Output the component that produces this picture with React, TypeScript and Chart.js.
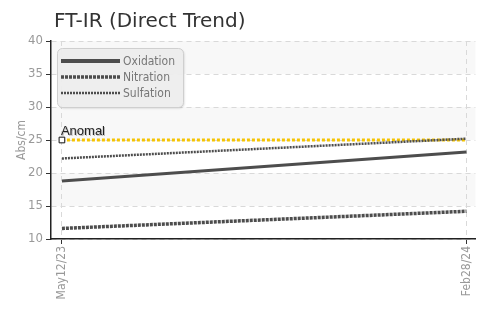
import React, { useEffect, useRef } from "react";
import { Chart, registerables } from "chart.js";
Chart.register(...registerables);

const titleText = "FT-IR (Direct Trend)";
const yTitle = "Abs/cm";
const dates = ["May12/23", "Feb28/24"];
const seriesNames = ["Oxidation", "Nitration", "Sulfation"];
const oxidation = [18.8, 23.2];
const nitration = [11.6, 14.2];
const sulfation = [22.2, 25.2];
const anomal = [25, 25];
const anomalLabel = "Anomal";
const yTicks = [10, 15, 20, 25, 30, 35, 40];

const NARROW = '"Liberation Sans Narrow", "DejaVu Sans Condensed", "Roboto", sans-serif';
const LINE = "#4d4d4d";

const styles = [
  { width: 3, dash: [] as number[] },
  { width: 3.5, dash: [3, 1] },
  { width: 2.5, dash: [2, 1] },
];

const decor = {
  id: "decor",
  beforeDraw(chart: any) {
    const { ctx, chartArea: a, scales } = chart;
    const y = scales.y;
    ctx.save();
    ctx.fillStyle = "#f8f8f8";
    for (let i = 0; i < yTicks.length - 1; i++) {
      if (i % 2 === 1) {
        const t = y.getPixelForValue(yTicks[i + 1]);
        const b = y.getPixelForValue(yTicks[i]);
        ctx.fillRect(a.left, t, a.right - a.left, b - t);
      }
    }
    ctx.fillStyle = "#333";
    ctx.font = '20px "DejaVu Sans", sans-serif';
    ctx.textBaseline = "alphabetic";
    ctx.textAlign = "left";
    ctx.fillText(titleText, 54, 27);
    ctx.restore();
  },
  afterDatasetsDraw(chart: any) {
    const { ctx, scales } = chart;
    const x = scales.x;
    const y = scales.y;
    ctx.save();
    // Anomal label
    ctx.font = '13px "Liberation Sans", Arial, sans-serif';
    ctx.fillStyle = "#222";
    ctx.textAlign = "left";
    ctx.textBaseline = "alphabetic";
    ctx.shadowColor = "rgba(0,0,0,0.25)";
    ctx.shadowOffsetX = 1;
    ctx.shadowOffsetY = 1;
    ctx.fillText(anomalLabel, x.getPixelForValue(0) - 1, y.getPixelForValue(anomal[0]) - 5);
    ctx.shadowColor = "transparent";
    // legend box
    ctx.beginPath();
    ctx.roundRect(57.5, 48.5, 126, 59, 5);
    ctx.shadowColor = "rgba(0,0,0,0.15)";
    ctx.shadowOffsetX = 1;
    ctx.shadowOffsetY = 1;
    ctx.shadowBlur = 2;
    ctx.fillStyle = "rgba(238,238,238,0.95)";
    ctx.fill();
    ctx.shadowColor = "transparent";
    ctx.strokeStyle = "#cfcfcf";
    ctx.lineWidth = 1;
    ctx.stroke();
    const rows = [61, 77, 93];
    seriesNames.forEach((name, i) => {
      ctx.beginPath();
      ctx.setLineDash(styles[i].dash);
      ctx.lineWidth = styles[i].width + (i === 0 ? 1 : 0);
      ctx.strokeStyle = LINE;
      ctx.moveTo(61, rows[i]);
      ctx.lineTo(120, rows[i]);
      ctx.stroke();
      ctx.setLineDash([]);
      ctx.font = "12px " + NARROW;
      ctx.fillStyle = "#777";
      ctx.textBaseline = "middle";
      ctx.fillText(name, 123, rows[i] + 1);
    });
    ctx.restore();
  },
};

export default function App() {
  const ref = useRef<HTMLCanvasElement>(null);
  useEffect(() => {
    document.body.style.margin = "0";
    const toPts = (arr: number[]) => arr.map((v, i) => ({ x: i, y: v }));
    const chart = new Chart(ref.current!, {
      type: "line",
      data: {
        datasets: [
          {
            label: "Anomal",
            data: toPts(anomal),
            borderColor: "#f5c400",
            borderWidth: 3,
            borderDash: [3, 2],
            pointStyle: "rect",
            pointRadius: [4, 0],
            pointBackgroundColor: "#fff",
            pointBorderColor: "#111",
            pointBorderWidth: 1,
            order: 5,
          },
          ...[oxidation, nitration, sulfation].map((arr, i) => ({
            label: seriesNames[i],
            data: toPts(arr),
            borderColor: LINE,
            borderWidth: styles[i].width,
            borderDash: styles[i].dash,
            pointRadius: 0,
            order: i + 1,
          })),
        ],
      },
      options: {
        animation: false,
        responsive: true,
        maintainAspectRatio: false,
        layout: { padding: { top: 41, right: 3, left: 0, bottom: 0 } },
        plugins: { legend: { display: false }, tooltip: { enabled: false }, title: { display: false } },
        scales: {
          x: {
            type: "linear",
            min: -0.027,
            max: 1.022,
            afterBuildTicks: (s: any) => {
              s.ticks = dates.map((_, i) => ({ value: i }));
            },
            afterFit: (s: any) => {
              s.height = 72;
            },
            ticks: {
              callback: (v: any) => dates[v],
              minRotation: 90,
              maxRotation: 90,
              autoSkip: false,
              color: "#999",
              padding: 2,
              font: { family: NARROW, size: 12 },
            },
            grid: {
              color: "#d9d9d9",
              lineWidth: 1,
              tickLength: 5,
              tickColor: "#333",
              tickWidth: 1,
              tickBorderDash: [],
            },
            border: { display: true, color: "#222", width: 1.5, dash: [5, 4] },
          },
          y: {
            min: 10,
            max: 40,
            afterBuildTicks: (s: any) => {
              s.ticks = yTicks.map((v) => ({ value: v }));
            },
            afterFit: (s: any) => {
              s.width = 51;
            },
            ticks: {
              color: "#999",
              padding: 3,
              font: { family: NARROW, size: 13 },
            },
            grid: {
              color: "#d9d9d9",
              lineWidth: 1,
              tickLength: 5,
              tickColor: "#333",
              tickWidth: 1,
              tickBorderDash: [],
            },
            border: { display: true, color: "#222", width: 1.5, dash: [5, 4] },
            title: {
              display: true,
              text: yTitle,
              color: "#999",
              font: { family: NARROW, size: 12 },
              padding: { top: 15, bottom: 0 },
            },
          },
        },
      },
      plugins: [decor],
    });
    return () => chart.destroy();
  }, []);
  return (
    <div style={{ width: 483, height: 311, position: "relative" }}>
      <canvas ref={ref} />
    </div>
  );
}
